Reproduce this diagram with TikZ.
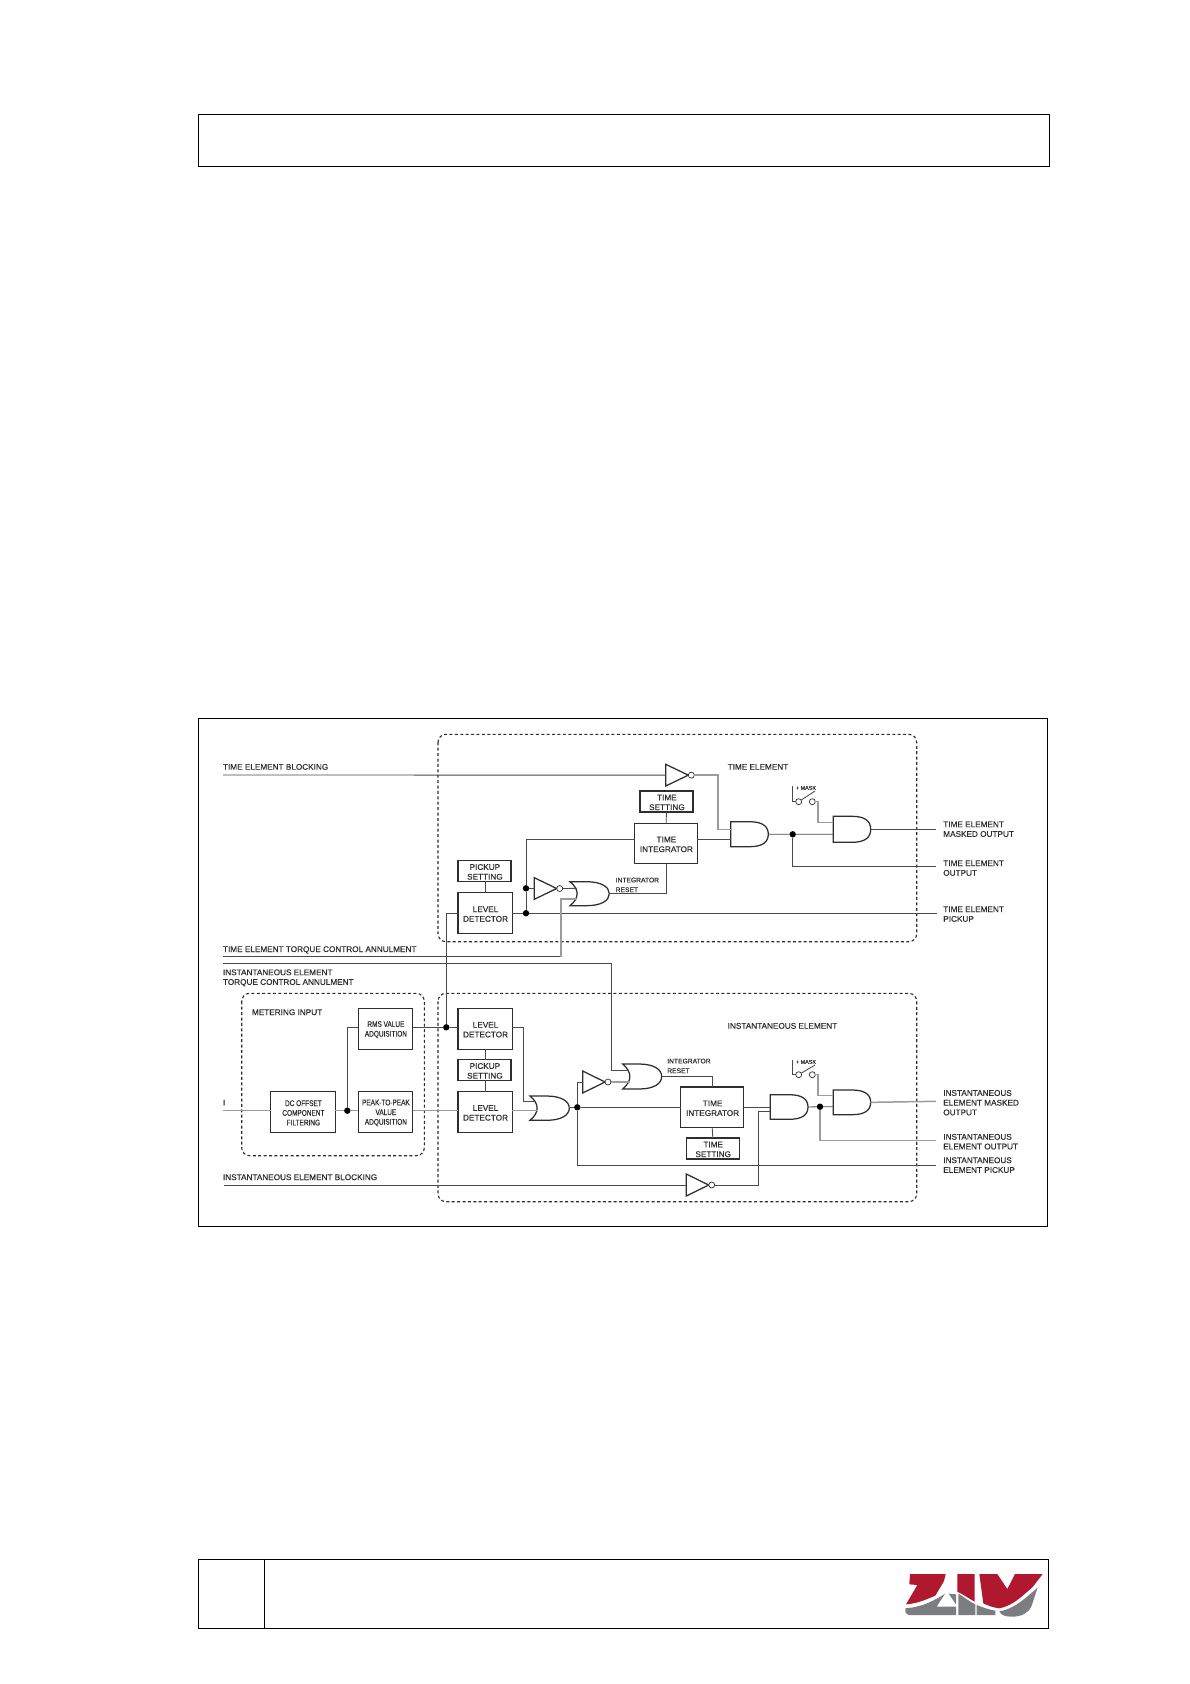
\documentclass[tikz,border=0pt]{standalone}
\usepackage{fontspec}
\setmainfont[FakeBold=0.25,AutoFakeBold=false]{Liberation Sans}
\newfontfamily\condfont[FakeStretch=0.79,FakeBold=0.25]{Liberation Sans}
\newfontfamily\plainfont[FakeBold=0.25]{Liberation Sans}
\usetikzlibrary{calc}
\definecolor{ink}{HTML}{2E2E2E}
\definecolor{wirecol}{HTML}{4A4A4A}
\definecolor{palewire}{HTML}{9C9C9C}
\definecolor{zivred}{HTML}{B0182F}
\definecolor{zivgrey}{HTML}{7B7D80}
\tikzset{
  frameline/.style={draw=black,line width=1pt},
  dashbox/.style={draw=ink,line width=1.1pt,dash pattern=on 3pt off 2.4pt,rounded corners=8pt},
  wire/.style={draw=wirecol,line width=0.85pt},
  palew/.style={draw=palewire,line width=1.5pt},
  boxnode/.style={draw=ink,line width=1.2pt,inner sep=0pt,outer sep=0pt},
  boxtext/.style={inner sep=0pt,outer sep=0pt,align=center,text=ink,
    font=\plainfont\fontsize{8.2}{9.7}\selectfont},
  condtext/.style={boxtext,font=\condfont\fontsize{8.2}{9.7}\selectfont},
  lab/.style={inner sep=0pt,outer sep=0pt,anchor=west,align=left,text=ink,yshift=-0.9pt,
    font=\plainfont\fontsize{8.2}{9.7}\selectfont},
  smalllab/.style={lab,font=\plainfont\fontsize{6.7}{9.7}\selectfont},
  tinylab/.style={lab,font=\plainfont\fontsize{5.4}{6}\selectfont},
  dotn/.style={circle,fill=black,inner sep=0pt,outer sep=0pt,minimum size=6.4pt},
  bubble/.style={circle,draw=ink,fill=white,line width=0.7pt,inner sep=0pt,outer sep=0pt,minimum size=6pt},
  gateline/.style={draw=ink,line width=1.25pt},
  gatearea/.style={inner sep=0pt,outer sep=0pt},
}
% box: name, left, top, right, bottom, text style, text
\newcommand{\LBox}[7]{%
  \pgfmathsetmacro\bcx{(#2+#4)/2}\pgfmathsetmacro\bcy{(#3+#5)/2}%
  \pgfmathsetmacro\bw{#4-#2}\pgfmathsetmacro\bh{#5-#3}%
  \node[boxnode,minimum width=\bw pt,minimum height=\bh pt] (#1) at (\bcx,\bcy) {};
  \node[#6] (#1-t) at ($(#1)+(0.4,0.9)$) {#7};}
% inverter: name, left, top, bottom, tip   (bubble node name-b)
\newcommand{\InvGate}[5]{%
  \pgfmathsetmacro\gmy{(#3+#4)/2}\pgfmathsetmacro\gbx{#5+3}%
  \pgfmathsetmacro\gw{#5-#2}\pgfmathsetmacro\gh{#4-#3}%
  \draw[gateline] (#2,#3) -- (#5,\gmy) -- (#2,#4) -- cycle;
  \node[gatearea,minimum width=\gw pt,minimum height=\gh pt,anchor=west] (#1) at (#2,\gmy) {};
  \node[bubble] (#1-b) at (\gbx,\gmy) {};}
% AND: name, left, top, bottom, tip
\newcommand{\AndGate}[5]{%
  \pgfmathsetmacro\gmy{(#3+#4)/2}\pgfmathsetmacro\gw{#5-#2}\pgfmathsetmacro\gh{#4-#3}%
  \pgfmathsetmacro\ga{#2+0.5*\gw}\pgfmathsetmacro\gb{#2+0.86*\gw}%
  \pgfmathsetmacro\gc{#3+0.2*\gh}\pgfmathsetmacro\gd{#4-0.2*\gh}%
  \draw[gateline] (#2,#3) -- (\ga,#3) .. controls (\gb,#3) and (#5,\gc) .. (#5,\gmy)
     .. controls (#5,\gd) and (\gb,#4) .. (\ga,#4) -- (#2,#4) -- cycle;
  \node[gatearea,minimum width=\gw pt,minimum height=\gh pt,anchor=west] (#1) at (#2,\gmy) {};}
% OR: name, left, top, bottom, tip
\newcommand{\OrGate}[5]{%
  \pgfmathsetmacro\gmy{(#3+#4)/2}\pgfmathsetmacro\gw{#5-#2}\pgfmathsetmacro\gh{#4-#3}%
  \pgfmathsetmacro\ga{#2+0.42*\gw}\pgfmathsetmacro\gb{#2+0.8*\gw}%
  \pgfmathsetmacro\gc{#3+0.22*\gh}\pgfmathsetmacro\gd{#4-0.22*\gh}%
  \pgfmathsetmacro\ge{#2+9.5}\pgfmathsetmacro\gf{#3+0.32*\gh}\pgfmathsetmacro\gg{#4-0.32*\gh}%
  \draw[gateline] (#2,#3) -- (\ga,#3) .. controls (\gb,#3) and (#5,\gc) .. (#5,\gmy)
     .. controls (#5,\gd) and (\gb,#4) .. (\ga,#4) -- (#2,#4)
     .. controls (\ge,\gg) and (\ge,\gf) .. cycle;
  \node[gatearea,minimum width=\gw pt,minimum height=\gh pt,anchor=west] (#1) at (#2,\gmy) {};}
\begin{document}
\begin{tikzpicture}[x=1pt,y=-1pt]
\useasboundingbox (0,0) rectangle (1190,1684);
\fill[white] (0,0) rectangle (1190,1684);
% ---- page frames
\draw[frameline] (198.5,114) rectangle (1049,166.5);
\draw[frameline] (198.5,718.5) rectangle (1047,1226.3);
\draw[frameline] (198.5,1559.3) rectangle (1048.3,1628.3);
\draw[frameline] (264.3,1559.3) -- (264.3,1628.3);
% ---- logo
\begin{scope}[shift={(900,1565)},x=0.3333pt,y=-0.3333pt]
\fill[zivred] (30,27) -- (137,27) -- (132,48) -- (106,92) .. controls (75,105) and (50,116) .. (18,118) -- (52,60) -- (28,58) -- cycle;
\fill[zivred] (172,27) -- (224,27) -- (224,110) .. controls (205,100) and (190,88) .. (172,80) -- cycle;
\fill[zivred] (238,27) -- (292,27) -- (322,72) -- (345,27) -- (428,27) -- (398,66) .. controls (370,90) and (340,122) .. (298,130) .. controls (280,128) and (265,122) .. (250,115) -- cycle;
\fill[zivgrey] (16,130) .. controls (70,126) and (105,105) .. (135,86) -- (110,125) -- (168,125) -- (168,150) -- (26,150) .. controls (18,150) and (15,142) .. (16,130) -- cycle;
\fill[zivgrey] (146,86) -- (168,88) -- (168,118) -- cycle;
\fill[zivgrey] (175,86) .. controls (190,94) and (205,108) .. (226,118) -- (226,150) -- (175,150) -- cycle;
\fill[zivgrey] (230,120) .. controls (250,128) and (268,134) .. (286,137) -- (286,150) -- (230,150) -- cycle;
\fill[zivgrey] (298,139) .. controls (345,132) and (380,95) .. (413,68) -- (395,122) .. controls (385,145) and (365,155) .. (335,155) .. controls (315,155) and (303,150) .. (298,139) -- cycle;
\end{scope}
% ---- dashed areas
\draw[dashbox] (438,734.3) rectangle (916.7,941.7);
\draw[dashbox] (438,993.3) rectangle (916.7,1201.7);
\draw[dashbox] (241.7,993.3) rectangle (424.3,1155.7);
% ---- boxes, time element
\LBox{pick1}{458}{860.7}{511}{881.3}{boxtext}{PICKUP\\SETTING}
\LBox{ld1}{458}{892.7}{512.3}{933.7}{boxtext}{LEVEL\\DETECTOR}
\LBox{tset1}{640}{791}{693}{812}{boxtext}{TIME\\SETTING}
\LBox{tint1}{634.7}{823.3}{697.3}{863.7}{boxtext}{TIME\\INTEGRATOR}
% ---- boxes, metering
\LBox{rms}{358.3}{1008.3}{412.7}{1049.3}{condtext}{RMS VALUE\\ADQUISITION}
\LBox{peak}{358.3}{1091.7}{412.7}{1132.3}{condtext}{PEAK-TO-PEAK\\VALUE\\ADQUISITION}
\LBox{dcf}{270.7}{1091.7}{335.3}{1132.3}{condtext}{DC OFFSET\\COMPONENT\\FILTERING}
% ---- boxes, instantaneous element
\LBox{ld2}{458}{1008.3}{512.3}{1049.3}{boxtext}{LEVEL\\DETECTOR}
\LBox{pick2}{458}{1059.7}{511}{1080.3}{boxtext}{PICKUP\\SETTING}
\LBox{ld3}{458}{1091.7}{512.3}{1132.3}{boxtext}{LEVEL\\DETECTOR}
\LBox{tint2}{680.7}{1087}{743.7}{1127.7}{boxtext}{TIME\\INTEGRATOR}
\LBox{tset2}{686.3}{1138}{739.3}{1159}{boxtext}{TIME\\SETTING}
% ---- gates
\InvGate{invA}{665.7}{764.3}{786}{688.3}
\AndGate{andA}{730.7}{821.7}{846.7}{768.3}
\AndGate{andB}{833.3}{816.3}{842.3}{870.7}
\InvGate{invB}{534.3}{877.7}{899.3}{556.7}
\OrGate{orA}{570}{881.7}{905.7}{609.3}
\OrGate{orB}{530}{1096}{1120.3}{569.3}
\InvGate{invC}{582.7}{1071}{1093}{605}
\OrGate{orC}{622.7}{1064}{1089}{661.7}
\AndGate{andC}{770.3}{1094.7}{1119.3}{808}
\AndGate{andD}{833.3}{1090}{1114.7}{870.7}
\InvGate{invD}{686.3}{1174}{1196}{708.7}
% ---- mask switches
\node[bubble] (swA1) at (798.7,801.7) {};
\node[bubble] (swA2) at (812.3,801.7) {};
\node[bubble] (swB1) at (798.7,1074.7) {};
\node[bubble] (swB2) at (812.3,1074.7) {};
\coordinate (swAt) at (792.3,786);
\coordinate (swBt) at (792.3,1060);
\coordinate (swAa) at (815,791);
\coordinate (swBa) at (815,1065);
\draw[wire] (swAt) |- (swA1.west);
\draw[wire] (swBt) |- (swB1.west);
\draw[wire] (swA1) -- (swAa);
\draw[wire] (swB1) -- (swBa);
% ---- junctions
\node[dotn] (jA) at (792.7,834.3) {};
\node[dotn] (jB) at (526,888.3) {};
\node[dotn] (jC) at (526,913.2) {};
\node[dotn] (jD) at (446.3,1027.3) {};
\node[dotn] (jE) at (347.3,1110.7) {};
\node[dotn] (jF) at (577.3,1107.3) {};
\node[dotn] (jG) at (820,1106.7) {};
% ---- free ends and ports
\coordinate (inTB) at (223,775);
\coordinate (inTQ) at (223,956.7);
\coordinate (inIQ) at (223,963.7);
\coordinate (inI) at (223,1110.7);
\coordinate (inIB) at (224,1185);
\coordinate (outAm) at (936,829.3);
\coordinate (outAo) at (936,866.7);
\coordinate (outAp) at (937,913.2);
\coordinate (outBm) at (936,1101.3);
\coordinate (outBo) at (936,1140.7);
\coordinate (outBp) at (936,1165.3);
\coordinate (andA1) at (730.7,829.3);
\coordinate (andA2) at (730.7,839.3);
\coordinate (tintAw) at (634.7,839.3);
\coordinate (tintAe) at (697.3,839.3);
\coordinate (andB1) at (833.3,822.3);
\coordinate (andB2) at (833.3,834.3);
\coordinate (orA1) at (577,888.3);
\coordinate (orA2) at (576.5,899);
\coordinate (orB1) at (535.5,1101.7);
\coordinate (orB2) at (537,1110.7);
\coordinate (orC1) at (628.5,1070.7);
\coordinate (orC2) at (629.5,1082);
\coordinate (andC1) at (770.3,1107.3);
\coordinate (andC2) at (770.3,1111.3);
\coordinate (andD1) at (833.3,1095.7);
\coordinate (andD2) at (833.3,1106.7);
\coordinate (tintBw) at (680.7,1107.3);
\coordinate (tintBe) at (743.7,1107.3);
\coordinate (orBout) at (569.3,1107.3);
\coordinate (ld3w) at (458,1110.7);
\coordinate (ld3e) at (512.3,1110.7);
\coordinate (peakw) at (358.3,1110.7);
\coordinate (peake) at (412.7,1110.7);
\coordinate (dcfw) at (270.7,1110.7);
\coordinate (dcfe) at (335.3,1110.7);
\coordinate (rmsw) at (358.3,1027.3);
\coordinate (rmse) at (412.7,1027.3);
\coordinate (ld2w) at (458,1027.3);
\coordinate (ld2e) at (512.3,1027.3);
\coordinate (ld1w) at (458,913.2);
\coordinate (ld1e) at (512.3,913.2);
\coordinate (tqA) at (561,956.7);
% ---- connectors, time element
\draw[wire] (inTB) -- (invA.west);
\draw[palew] (invA-b.east) -| (718,829.3) -- (andA1);
\draw[wire] (tset1) -- (tint1);
\draw[wire] (tintAe) -- (andA2);
\draw[wire] (andA.east) -- (jA) -- (andB2);
\draw[wire] (jA) |- (outAo);
\draw[wire] (andB.east) -- (outAm);
\draw[palew] (swA2.east) -| (818,822.3) -- (andB1);
\draw[wire] (pick1.south -| ld1) -- (ld1.north);
\draw[wire] (ld1e) -- (jC) -- (outAp);
\draw[wire] (jC) -- (jB) -- (526,839.3) -- (tintAw);
\draw[wire] (jB) -- (invB.west);
\draw[wire] (invB-b.east) -- (orA1);
\draw[wire] (orA.east) -| (tint1.south);
\draw[wire] (inTQ) -- (tqA);
\draw[palew] (tqA) |- (orA2);
\draw[wire] (ld1w) -| (jD);
% ---- connectors, metering and instantaneous element
\draw[wire] (inIQ) -| (611.3,1070.7) -- (orC1);
\draw[palew] (inI) -- (dcfw);
\draw[palew] (dcfe) -- (jE) -- (peakw);
\draw[wire] (jE) |- (rmsw);
\draw[wire] (rmse) -- (jD) -- (ld2w);
\draw[palew] (peake) -- (ld3w);
\draw[palew] (ld3e) -- (orB2);
\draw[wire] (ld2e) -| (523.7,1101.7) -- (orB1);
\draw[wire] (ld2.south) -- (ld2.south |- pick2.north);
\draw[wire] (ld3.north) -- (ld3.north |- pick2.south);
\draw[wire] (orBout) -- (jF) -- (tintBw);
\draw[wire] (jF) |- (invC.west);
\draw[wire] (jF) |- (outBp);
\draw[palew] (invC-b.east) -- (orC2);
\draw[wire] (orC.east) -| (tint2.north);
\draw[wire] (tint2.south) -- (tset2.north);
\draw[wire] (tintBe) -- (andC1);
\draw[wire] (inIB) -- (invD.west);
\draw[wire] (invD-b.east) -| (758.3,1111.3) -- (andC2);
\draw[wire] (andC.east) -- (jG) -- (andD2);
\draw[palew] (jG) |- (outBo);
\draw[palew] (swB2.east) -| (818,1095.7) -- (andD1);
\draw[palew] (andD.east) -- (outBm);
% ---- labels
\node[lab] (tTB) at (223,766) {TIME ELEMENT BLOCKING};
\node[lab] (tTQ) at (223,949) {TIME ELEMENT TORQUE CONTROL ANNULMENT};
\node[lab] (tIQ) at (223,977) {INSTANTANEOUS ELEMENT\\TORQUE CONTROL ANNULMENT};
\node[lab] (tMI) at (252,1011.3) {METERING INPUT};
\node[lab] (tIB) at (223,1176.3) {INSTANTANEOUS ELEMENT BLOCKING};
\node[lab] (tI) at (223,1101.7) {I};
\node[lab] (tTE) at (727.7,766) {TIME ELEMENT};
\node[lab] (tIE) at (727.7,1025) {INSTANTANEOUS ELEMENT};
\node[lab] (oA1) at (943.3,828.3) {TIME ELEMENT\\MASKED OUTPUT};
\node[lab] (oA2) at (943.3,867.2) {TIME ELEMENT\\OUTPUT};
\node[lab] (oA3) at (943.3,913.2) {TIME ELEMENT\\PICKUP};
\node[lab] (oB1) at (943.3,1101.8) {INSTANTANEOUS\\ELEMENT MASKED\\OUTPUT};
\node[lab] (oB2) at (943.3,1140.8) {INSTANTANEOUS\\ELEMENT OUTPUT};
\node[lab] (oB3) at (943.3,1164.2) {INSTANTANEOUS\\ELEMENT PICKUP};
\node[smalllab] (rA) at (615.7,884) {INTEGRATOR\\RESET};
\node[smalllab] (rB) at (667.3,1065) {INTEGRATOR\\RESET};
\node[tinylab] (mA) at (796,787) {+ MASK};
\node[tinylab] (mB) at (796,1061) {+ MASK};
\end{tikzpicture}
\end{document}
